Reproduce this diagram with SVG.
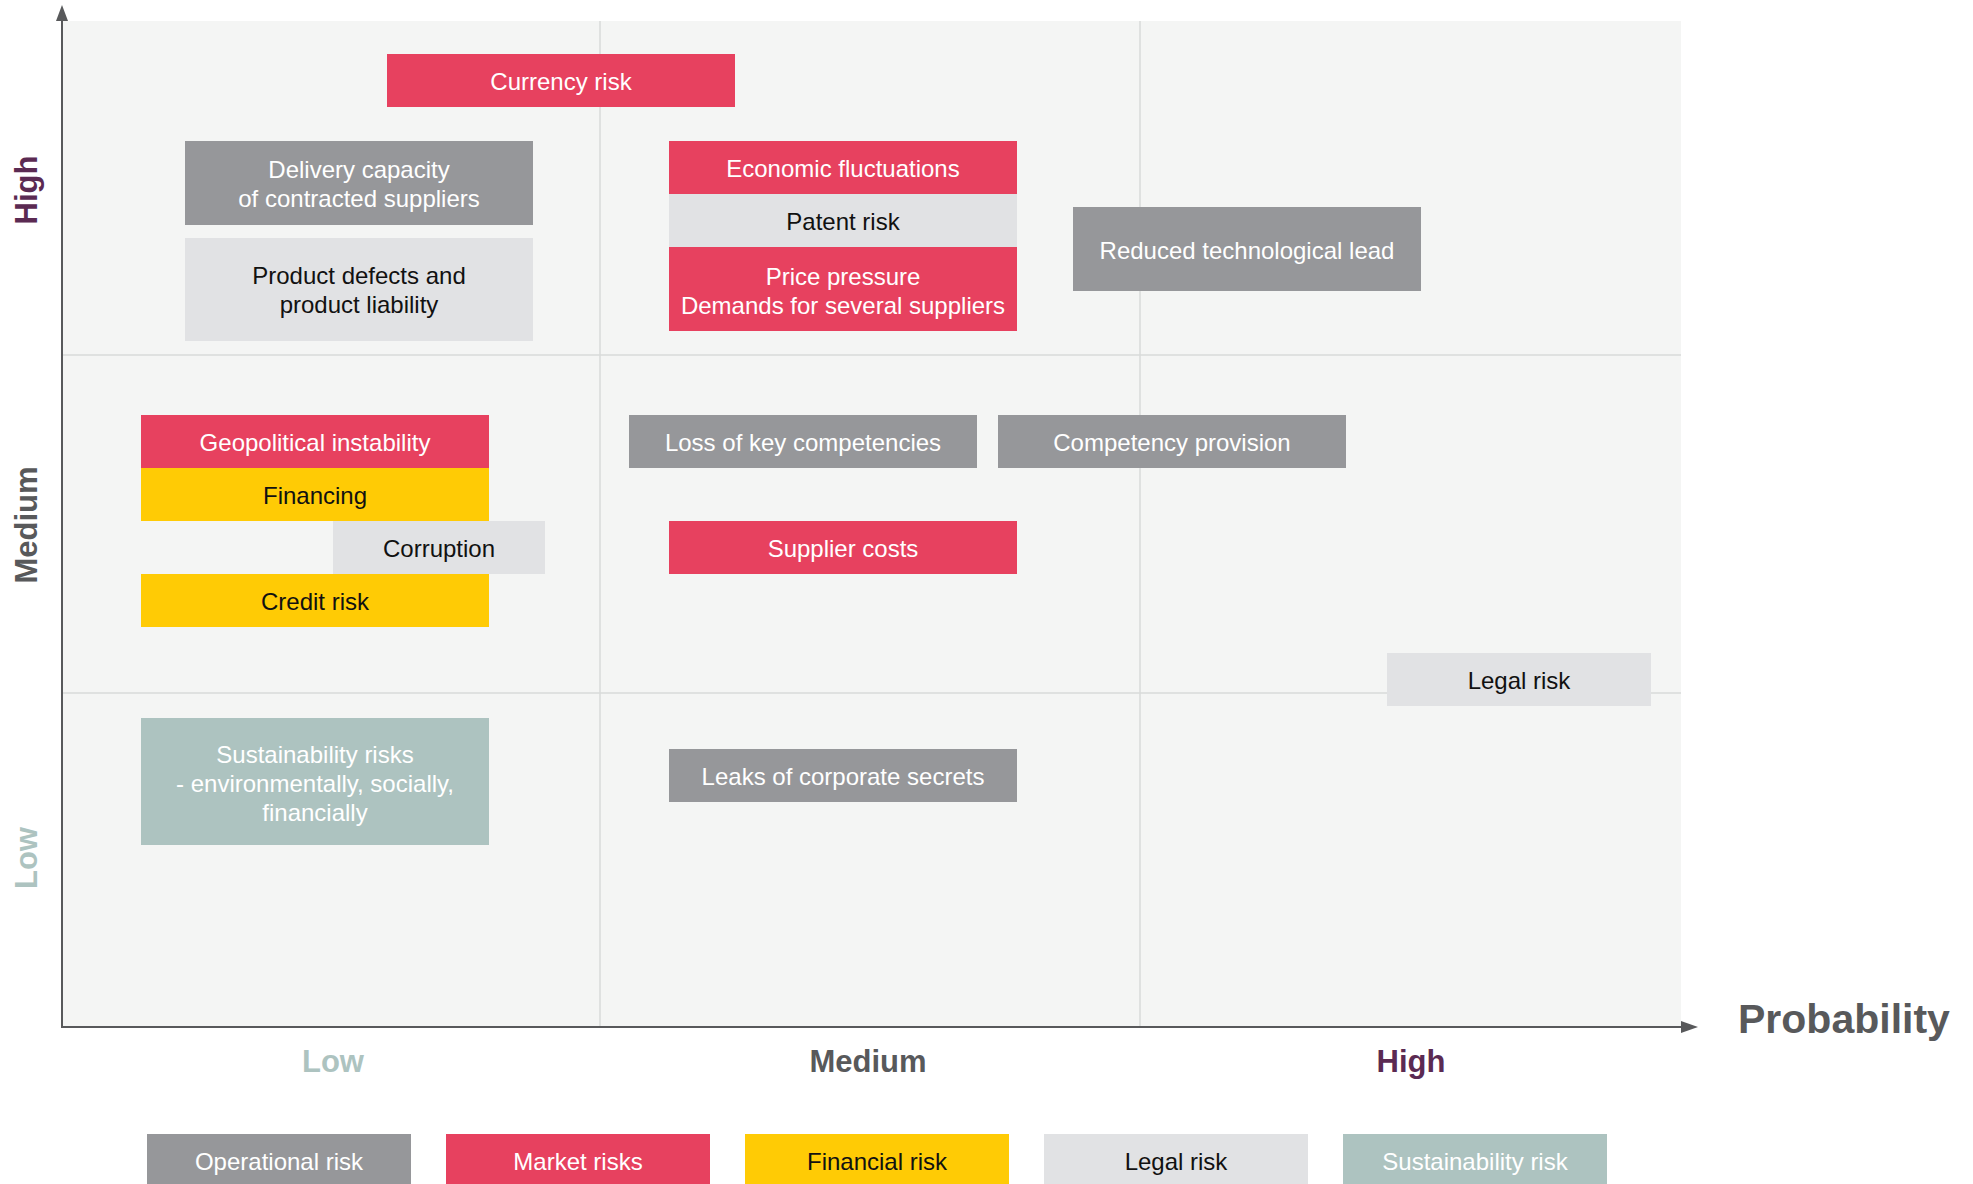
<svg xmlns="http://www.w3.org/2000/svg" width="1973" height="1184" viewBox="0 0 1973 1184">
<style>
  text { font-family: "Liberation Sans", Arial, sans-serif; }
  .t { font-size: 24px; text-anchor: middle; }
  .w { fill: #ffffff; }
  .k { fill: #111111; }
  .op { fill: #96979a; }
  .mk { fill: #e7415f; }
  .fn { fill: #ffcb05; }
  .lg { fill: #e1e2e4; }
  .su { fill: #adc3c0; }
  .grid { stroke: #d9dada; stroke-width: 1.5; fill: none; }
  .axis { stroke: #58595b; stroke-width: 2; fill: none; }
  .ax { font-size: 31px; font-weight: bold; text-anchor: middle; }
</style>
<rect width="1973" height="1184" fill="#ffffff"/>
<!-- plot background -->
<rect x="62" y="21" width="1619" height="1006" fill="#f4f5f4"/>
<g id="grid">
  <line class="grid" x1="600" y1="21" x2="600" y2="1027"/>
  <line class="grid" x1="1140" y1="21" x2="1140" y2="1027"/>
  <line class="grid" x1="62" y1="355" x2="1681" y2="355"/>
  <line class="grid" x1="62" y1="693" x2="1681" y2="693"/>
</g>
<g id="connectors">
  <line class="axis" x1="62" y1="1027" x2="62" y2="20"/>
  <polygon points="62,5 56,21 68,21" fill="#58595b"/>
  <line class="axis" x1="61" y1="1027" x2="1682" y2="1027"/>
  <polygon points="1698,1027 1681,1021 1681,1033" fill="#58595b"/>
</g>
<g id="axis-labels">
  <text class="ax" transform="translate(37,190) rotate(-90)" fill="#5b2a52">High</text>
  <text class="ax" transform="translate(37,525) rotate(-90)" fill="#58595b">Medium</text>
  <text class="ax" transform="translate(37,858) rotate(-90)" fill="#adc3c0">Low</text>
  <text class="ax" x="333" y="1072" fill="#adc3c0">Low</text>
  <text class="ax" x="868" y="1072" fill="#58595b">Medium</text>
  <text class="ax" x="1411" y="1072" fill="#5b2a52">High</text>
  <text x="1738" y="1033" font-size="41" font-weight="bold" fill="#58595b">Probability</text>
</g>
<g id="n-currency"><rect class="mk" x="387" y="54" width="348" height="53"/><text class="t w" x="561" y="90">Currency risk</text></g>
<g id="n-delivery"><rect class="op" x="185" y="141" width="348" height="84"/><text class="t w" x="359" y="178">Delivery capacity</text><text class="t w" x="359" y="207">of contracted suppliers</text></g>
<g id="n-defects"><rect class="lg" x="185" y="238" width="348" height="103"/><text class="t k" x="359" y="284">Product defects and</text><text class="t k" x="359" y="313">product liability</text></g>
<g id="n-economic"><rect class="mk" x="669" y="141" width="348" height="53"/><text class="t w" x="843" y="177">Economic fluctuations</text></g>
<g id="n-patent"><rect class="lg" x="669" y="194" width="348" height="53"/><text class="t k" x="843" y="230">Patent risk</text></g>
<g id="n-price"><rect class="mk" x="669" y="247" width="348" height="84"/><text class="t w" x="843" y="285">Price pressure</text><text class="t w" x="843" y="314">Demands for several suppliers</text></g>
<g id="n-reduced"><rect class="op" x="1073" y="207" width="348" height="84"/><text class="t w" x="1247" y="259">Reduced technological lead</text></g>
<g id="n-geopolitical"><rect class="mk" x="141" y="415" width="348" height="53"/><text class="t w" x="315" y="451">Geopolitical instability</text></g>
<g id="n-financing"><rect class="fn" x="141" y="468" width="348" height="53"/><text class="t k" x="315" y="504">Financing</text></g>
<g id="n-corruption"><rect class="lg" x="333" y="521" width="212" height="53"/><text class="t k" x="439" y="557">Corruption</text></g>
<g id="n-credit"><rect class="fn" x="141" y="574" width="348" height="53"/><text class="t k" x="315" y="610">Credit risk</text></g>
<g id="n-loss"><rect class="op" x="629" y="415" width="348" height="53"/><text class="t w" x="803" y="451">Loss of key competencies</text></g>
<g id="n-competency"><rect class="op" x="998" y="415" width="348" height="53"/><text class="t w" x="1172" y="451">Competency provision</text></g>
<g id="n-supplier"><rect class="mk" x="669" y="521" width="348" height="53"/><text class="t w" x="843" y="557">Supplier costs</text></g>
<g id="n-legal"><rect class="lg" x="1387" y="653" width="264" height="53"/><text class="t k" x="1519" y="689">Legal risk</text></g>
<g id="n-sustainability"><rect class="su" x="141" y="718" width="348" height="127"/><text class="t w" x="315" y="763">Sustainability risks</text><text class="t w" x="315" y="792">- environmentally, socially,</text><text class="t w" x="315" y="821">financially</text></g>
<g id="n-leaks"><rect class="op" x="669" y="749" width="348" height="53"/><text class="t w" x="843" y="785">Leaks of corporate secrets</text></g>
<g id="legend">
  <g id="lg-operational"><rect class="op" x="147" y="1134" width="264" height="53"/><text class="t w" x="279" y="1170">Operational risk</text></g>
  <g id="lg-market"><rect class="mk" x="446" y="1134" width="264" height="53"/><text class="t w" x="578" y="1170">Market risks</text></g>
  <g id="lg-financial"><rect class="fn" x="745" y="1134" width="264" height="53"/><text class="t k" x="877" y="1170">Financial risk</text></g>
  <g id="lg-legal"><rect class="lg" x="1044" y="1134" width="264" height="53"/><text class="t k" x="1176" y="1170">Legal risk</text></g>
  <g id="lg-sustainability"><rect class="su" x="1343" y="1134" width="264" height="53"/><text class="t w" x="1475" y="1170">Sustainability risk</text></g>
</g>
</svg>
